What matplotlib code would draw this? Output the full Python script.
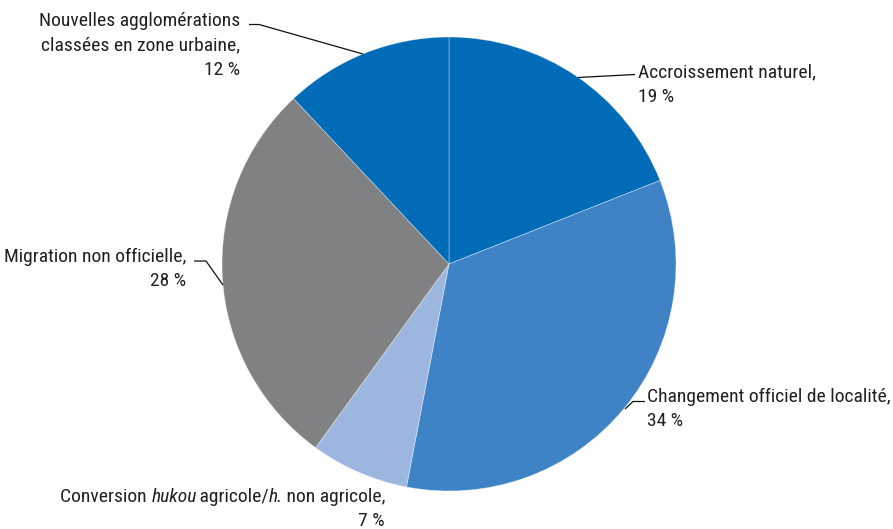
import matplotlib
matplotlib.use("Agg")
import matplotlib.pyplot as plt
from matplotlib import font_manager

W, H = 893, 529
installed = {f.name for f in font_manager.fontManager.ttflist}
FAMILY = "Liberation Sans"
FS = 12.6
for cand, size in [("Liberation Sans Narrow", 15), ("Arial Narrow", 15),
                   ("Roboto Condensed", 14)]:
    if cand in installed:
        FAMILY, FS = cand, size
        break

plt.rcParams["font.family"] = [FAMILY, "DejaVu Sans"]

# Composition of urban population growth (shares, %)
categories = [
    "Accroissement naturel",
    "Changement officiel de localité",
    "Conversion hukou agricole/h. non agricole",
    "Migration non officielle",
    "Nouvelles agglomérations classées en zone urbaine",
]
shares = [19, 34, 7, 28, 12]
colors = ["#006BB6", "#3D83C6", "#9DB6E0", "#808182", "#006BB6"]

fig = plt.figure(figsize=(W / 100, H / 100), dpi=100)
ax = fig.add_axes([0, 0, 1, 1])

cx, cy, r = 449, H - 264, 227
ax.pie(shares, colors=colors, startangle=90, counterclock=False,
       center=(cx, cy), radius=r, frame=True,
       wedgeprops=dict(edgecolor=(1, 1, 1, 0.5), linewidth=0.5))
ax.set_xlim(0, W)
ax.set_ylim(0, H)
ax.set_aspect("equal")
ax.axis("off")

TXT = "#231F20"
LS = 24.5
renderer = fig.canvas.get_renderer()


def put_line(segments, x, y, ha):
    """Write one line built from (text, style) pieces; y is the baseline from the top."""
    arts = []
    for s, style in segments:
        arts.append(ax.text(0, H - y, s, ha="left", va="baseline",
                            fontsize=FS, color=TXT, style=style))
    widths = []
    for a, (s, style) in zip(arts, segments):
        w = a.get_window_extent(renderer).width
        if style == "italic":
            w -= 1.5  # italic extents carry a little overhang
        widths.append(w)
    total = sum(widths)
    start = x - total if ha == "right" else x
    for a, w in zip(arts, widths):
        a.set_x(start)
        start += w


def put(lines, pct, x, y0, ha):
    rows = list(lines) + [[(f"{pct} %", "normal")]]
    for i, segs in enumerate(rows):
        put_line(segs, x, y0 + i * LS, ha)


N = "normal"
put([[("Accroissement naturel,", N)]], shares[0], 638, 77, "left")
put([[("Changement officiel de localité,", N)]], shares[1], 647, 401.5, "left")
put([[("Conversion ", N), ("hukou", "italic"), (" agricole/", N),
      ("h.", "italic"), (" non agricole,", N)]], shares[2], 385, 501.5, "right")
put([[("Migration non officielle,", N)]], shares[3], 186, 261.5, "right")
put([[("Nouvelles agglomérations", N)],
     [("classées en zone urbaine,", N)]], shares[4], 240, 26, "right")

# leader lines (pixel coordinates, y from top)
leaders = [
    [(578, 77.5), (635, 74.5)],
    [(625, 409), (633, 401.5), (645, 401.5)],
    [(194, 261), (206, 261), (223, 285)],
    [(249, 24.5), (259, 24.5), (363, 54)],
]
for pts in leaders:
    xs = [p[0] for p in pts]
    ys = [H - p[1] for p in pts]
    ax.plot(xs, ys, color="#111111", lw=0.9, solid_capstyle="butt")

fig.savefig("out.png", dpi=100)
